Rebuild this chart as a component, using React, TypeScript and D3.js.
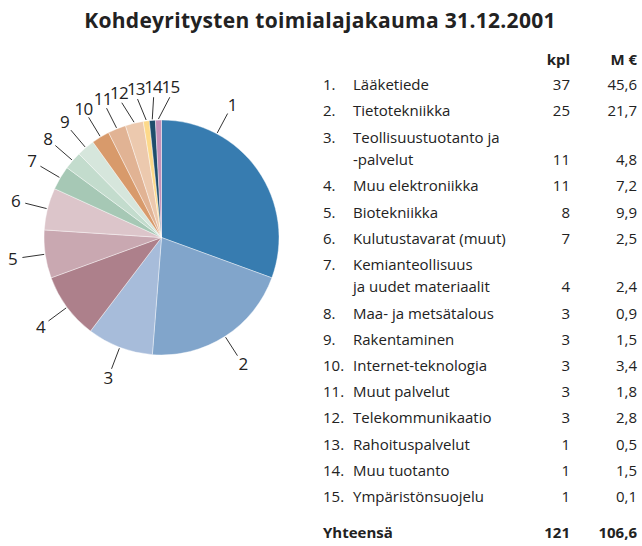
import React, { useRef, useEffect } from "react";
import * as d3 from "d3";

// Data
const title = "Kohdeyritysten toimialajakauma 31.12.2001";
const categories = [
  "Lääketiede",
  "Tietotekniikka",
  "Teollisuustuotanto ja\n-palvelut",
  "Muu elektroniikka",
  "Biotekniikka",
  "Kulutustavarat (muut)",
  "Kemianteollisuus\nja uudet materiaalit",
  "Maa- ja metsätalous",
  "Rakentaminen",
  "Internet-teknologia",
  "Muut palvelut",
  "Telekommunikaatio",
  "Rahoituspalvelut",
  "Muu tuotanto",
  "Ympäristönsuojelu",
];
const kpl = [37, 25, 11, 11, 8, 7, 4, 3, 3, 3, 3, 3, 1, 1, 1];
const meur = [45.6, 21.7, 4.8, 7.2, 9.9, 2.5, 2.4, 0.9, 1.5, 3.4, 1.8, 2.8, 0.5, 1.5, 0.1];
const colors = [
  "#377cb0", "#81a5cb", "#a7bcda", "#ad808b", "#c9a8b1",
  "#dcc5ca", "#a6c8b5", "#c3dccd", "#d6e6dc", "#d89a6b",
  "#e1b394", "#ecc9ae", "#fdd98a", "#1f4d6c", "#c48fb8",
];
const colHeaders = ["kpl", "M €"];
const totalLabel = "Yhteensä";

const W = 642;
const H = 546;
const FONT = "'Open Sans', 'Noto Sans', sans-serif";
const TEXT = "#222";

export default function App() {
  const svgRef = useRef<SVGSVGElement>(null);

  useEffect(() => {
    document.body.style.margin = "0";
    const svg = d3.select(svgRef.current);
    svg.selectAll("*").remove();
    svg.attr("width", W).attr("height", H).style("font-family", FONT);

    const fmt = d3.formatLocale({ decimal: ",", thousands: " ", grouping: [3], currency: ["", ""] }).format(".1f");

    // Title
    svg.append("text")
      .attr("x", 320)
      .attr("y", 21)
      .attr("dy", "0.35em")
      .attr("text-anchor", "middle")
      .attr("font-weight", "bold")
      .attr("font-size", 21)
      .attr("letter-spacing", 0.3)
      .attr("fill", TEXT)
      .text(title);

    // Pie
    const cx = 161.5, cy = 237.5, R = 117.5;
    const pie = d3.pie<number>().sort(null).value((d) => d);
    const arcs = pie(kpl);
    const arc = d3.arc<d3.PieArcDatum<number>>().innerRadius(0).outerRadius(R);
    const g = svg.append("g").attr("transform", `translate(${cx},${cy})`);

    g.selectAll("path.slice")
      .data(arcs)
      .join("path")
      .attr("class", "slice")
      .attr("d", arc)
      .attr("fill", (d, i) => colors[i])
      .attr("stroke", "#fff")
      .attr("stroke-width", 0.4);

    // Label angles: anchor at slice middle (first slice sits off-centre), then spread apart
    const anchor = arcs.map((a, i) => {
      const f = i === 0 ? 0.255 : 0.5;
      return a.startAngle + (a.endAngle - a.startAngle) * f;
    });
    const lab = anchor.slice();
    const minGap = (6.6 * Math.PI) / 180;
    for (let it = 0; it < 200; it++) {
      for (let i = 2; i < lab.length; i++) {
        const gap = lab[i] - lab[i - 1];
        if (gap < minGap) {
          const push = (minGap - gap) / 2;
          lab[i - 1] -= push;
          lab[i] += push;
        }
      }
    }
    const pt = (a: number, r: number) => [Math.sin(a) * r, -Math.cos(a) * r];

    g.selectAll("line.leader")
      .data(arcs)
      .join("line")
      .attr("class", "leader")
      .attr("x1", (d, i) => pt(anchor[i], R + 1)[0])
      .attr("y1", (d, i) => pt(anchor[i], R + 1)[1])
      .attr("x2", (d, i) => pt(lab[i], R + 23)[0])
      .attr("y2", (d, i) => pt(lab[i], R + 23)[1])
      .attr("stroke", "#333")
      .attr("stroke-width", 1);

    g.selectAll("text.plabel")
      .data(arcs)
      .join("text")
      .attr("class", "plabel")
      .attr("x", (d, i) => pt(lab[i], R + 33)[0])
      .attr("y", (d, i) => pt(lab[i], R + 33)[1])
      .attr("dy", "0.35em")
      .attr("text-anchor", "middle")
      .attr("font-size", 17)
      .attr("letter-spacing", -0.8)
      .attr("fill", TEXT)
      .text((d, i) => String(i + 1));

    // Table
    const xNum = 323, xName = 353, xKpl = 570, xVal = 637;
    const rowStep = 26.2, wrapStep = 22.5;
    const t = svg.append("g").attr("font-size", 15).attr("fill", TEXT);

    t.selectAll("text.head")
      .data(colHeaders)
      .join("text")
      .attr("class", "head")
      .attr("x", (d, i) => (i === 0 ? xKpl : xVal))
      .attr("y", 60)
      .attr("dy", "0.35em")
      .attr("text-anchor", "end")
      .attr("font-weight", "bold")
      .text((d) => d);

    let y = 85;
    categories.forEach((name, i) => {
      const lines = name.split("\n");
      t.append("text").attr("x", xNum).attr("y", y).attr("dy", "0.35em").text(`${i + 1}.`);
      lines.forEach((ln, j) => {
        t.append("text").attr("x", xName).attr("y", y + j * wrapStep).attr("dy", "0.35em").text(ln);
      });
      const yLast = y + (lines.length - 1) * wrapStep;
      t.append("text").attr("x", xKpl).attr("y", yLast).attr("dy", "0.35em").attr("text-anchor", "end").text(kpl[i]);
      t.append("text").attr("x", xVal).attr("y", yLast).attr("dy", "0.35em").attr("text-anchor", "end").text(fmt(meur[i]));
      y = yLast + rowStep;
    });

    const yTot = y + 10;
    t.append("text").attr("x", xNum).attr("y", yTot).attr("dy", "0.35em").attr("font-weight", "bold").text(totalLabel);
    t.append("text").attr("x", xKpl).attr("y", yTot).attr("dy", "0.35em").attr("text-anchor", "end").attr("font-weight", "bold").text(d3.sum(kpl));
    t.append("text").attr("x", xVal).attr("y", yTot).attr("dy", "0.35em").attr("text-anchor", "end").attr("font-weight", "bold").text(fmt(d3.sum(meur)));
  }, []);

  return (
    <div className="PieChart">
      <svg ref={svgRef} style={{ display: "block" }}></svg>
    </div>
  );
}
